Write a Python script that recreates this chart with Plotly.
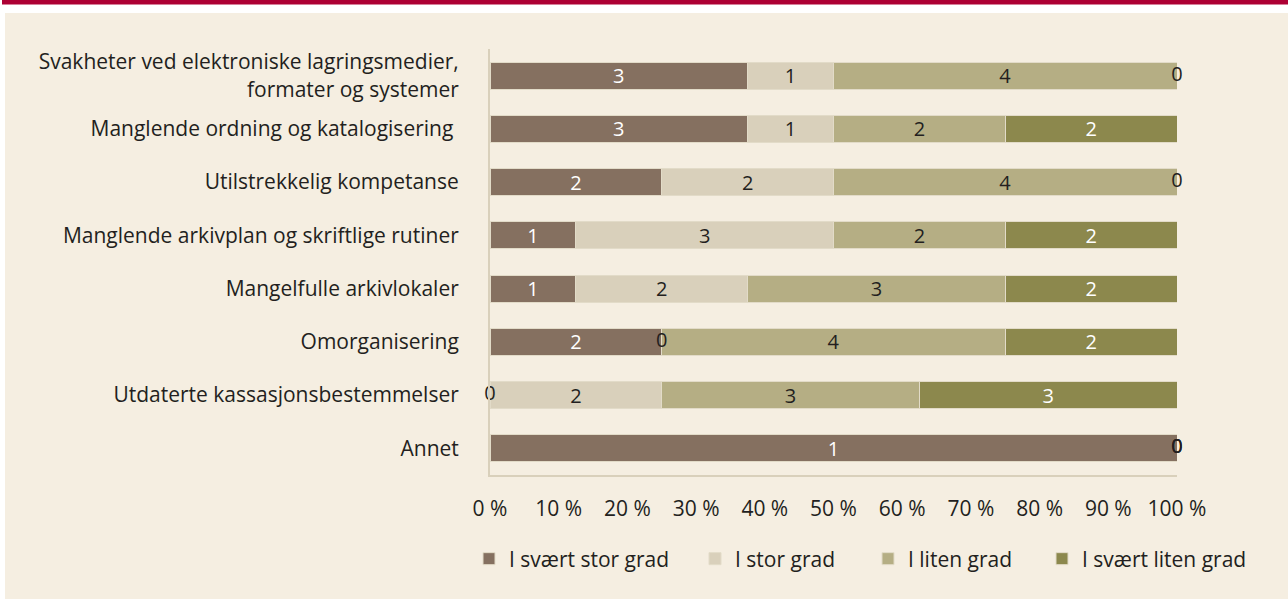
import plotly.graph_objects as go
import numpy as np

categories = [
    "Svakheter ved elektroniske lagringsmedier,<br>formater og systemer",
    "Manglende ordning og katalogisering ",
    "Utilstrekkelig kompetanse",
    "Manglende arkivplan og skriftlige rutiner",
    "Mangelfulle arkivlokaler",
    "Omorganisering",
    "Utdaterte kassasjonsbestemmelser",
    "Annet",
]
series_names = ["I svært stor grad", "I stor grad", "I liten grad", "I svært liten grad"]
svaert_stor = [3, 3, 2, 1, 1, 2, 0, 1]
stor = [1, 1, 2, 3, 2, 0, 2, 0]
liten = [4, 2, 4, 2, 3, 4, 3, 0]
svaert_liten = [0, 2, 0, 2, 2, 2, 3, 0]
tick_vals = [0, 10, 20, 30, 40, 50, 60, 70, 80, 90, 100]
tick_text = [f"{v} %" for v in tick_vals]

series = [svaert_stor, stor, liten, svaert_liten]
colors = ["#857060", "#d9d0bb", "#b5ae84", "#8c884d"]
text_colors = ["white", "#231f20", "#231f20", "white"]
legend_ids = ["legend", "legend2", "legend3", "legend4"]
legend_px = [469, 695, 868, 1042]

FONT = "Open Sans"
TXT = "#231f20"
fig = go.Figure()
for name, vals, col, tc, lg in zip(series_names, series, colors, text_colors, legend_ids):
    fig.add_trace(go.Bar(
        y=categories, x=vals, name=name, orientation="h", legend=lg,
        marker=dict(color=col, line=dict(color="#e2dbc8", width=1)),
        text=[str(v) if v else "" for v in vals],
        textposition="inside", insidetextanchor="middle", textangle=0,
        textfont=dict(color=tc, size=20, family=FONT),
        constraintext="none",
    ))

# zero-value labels at segment boundaries (computed from data)
arr = np.array(series, dtype=float)
totals = arr.sum(axis=0)
cum = np.cumsum(arr, axis=0)
zx, zy = [], []
for s in range(len(series)):
    for i, cat in enumerate(categories):
        if arr[s, i] == 0:
            zx.append(cum[s, i] / totals[i] * 100)
            zy.append(cat)
fig.add_trace(go.Scatter(
    x=zx, y=zy, mode="text", text=["0"] * len(zx), textposition="middle center",
    textfont=dict(color=TXT, size=20, family=FONT),
    showlegend=False, cliponaxis=False, hoverinfo="skip",
))

W, H = 1288, 599
L, R, T, B = 490, 111, 49, 124
PW, PH = W - L - R, H - T - B

def px_x(x):
    return (x - L) / PW

def px_y(y):
    return (H - B - y) / PH

legend_common = dict(orientation="h", xanchor="left", y=px_y(559), yanchor="middle",
                     font=dict(size=21, family=FONT, color=TXT),
                     bgcolor="rgba(0,0,0,0)")
legends = {lg: dict(x=px_x(xp), **legend_common) for lg, xp in zip(legend_ids, legend_px)}

fig.update_layout(
    width=W, height=H,
    barmode="stack", barnorm="percent", bargap=0.49,
    paper_bgcolor="white", plot_bgcolor="rgba(0,0,0,0)",
    margin=dict(l=L, r=R, t=T, b=B),
    font=dict(family=FONT, size=21, color=TXT),
    xaxis=dict(range=[0, 100], tickvals=tick_vals, ticktext=tick_text,
               showgrid=False, zeroline=False, showline=True,
               linecolor="#d9d0bb", linewidth=2, ticks="", ticklabelstandoff=14,
               tickfont=dict(size=21, family=FONT, color=TXT)),
    yaxis=dict(autorange="reversed", showgrid=False, zeroline=False,
               showline=True, linecolor="#d9d0bb", linewidth=2, ticks="",
               ticklabelstandoff=25,
               tickfont=dict(size=21, family=FONT, color=TXT)),
    shapes=[
        dict(type="rect", xref="paper", yref="paper", layer="below",
             x0=px_x(5), x1=px_x(W), y0=px_y(H), y1=px_y(13),
             fillcolor="#f5eee1", line=dict(width=0)),
        dict(type="rect", xref="paper", yref="paper", layer="below",
             x0=px_x(2), x1=px_x(W), y0=px_y(4.5), y1=px_y(0),
             fillcolor="#ad0034", line=dict(width=0)),
    ],
    **legends,
)
fig.write_html("out.html", config={"displayModeBar": False},
               post_script="document.body.style.margin='0';document.body.style.overflow='hidden';")
